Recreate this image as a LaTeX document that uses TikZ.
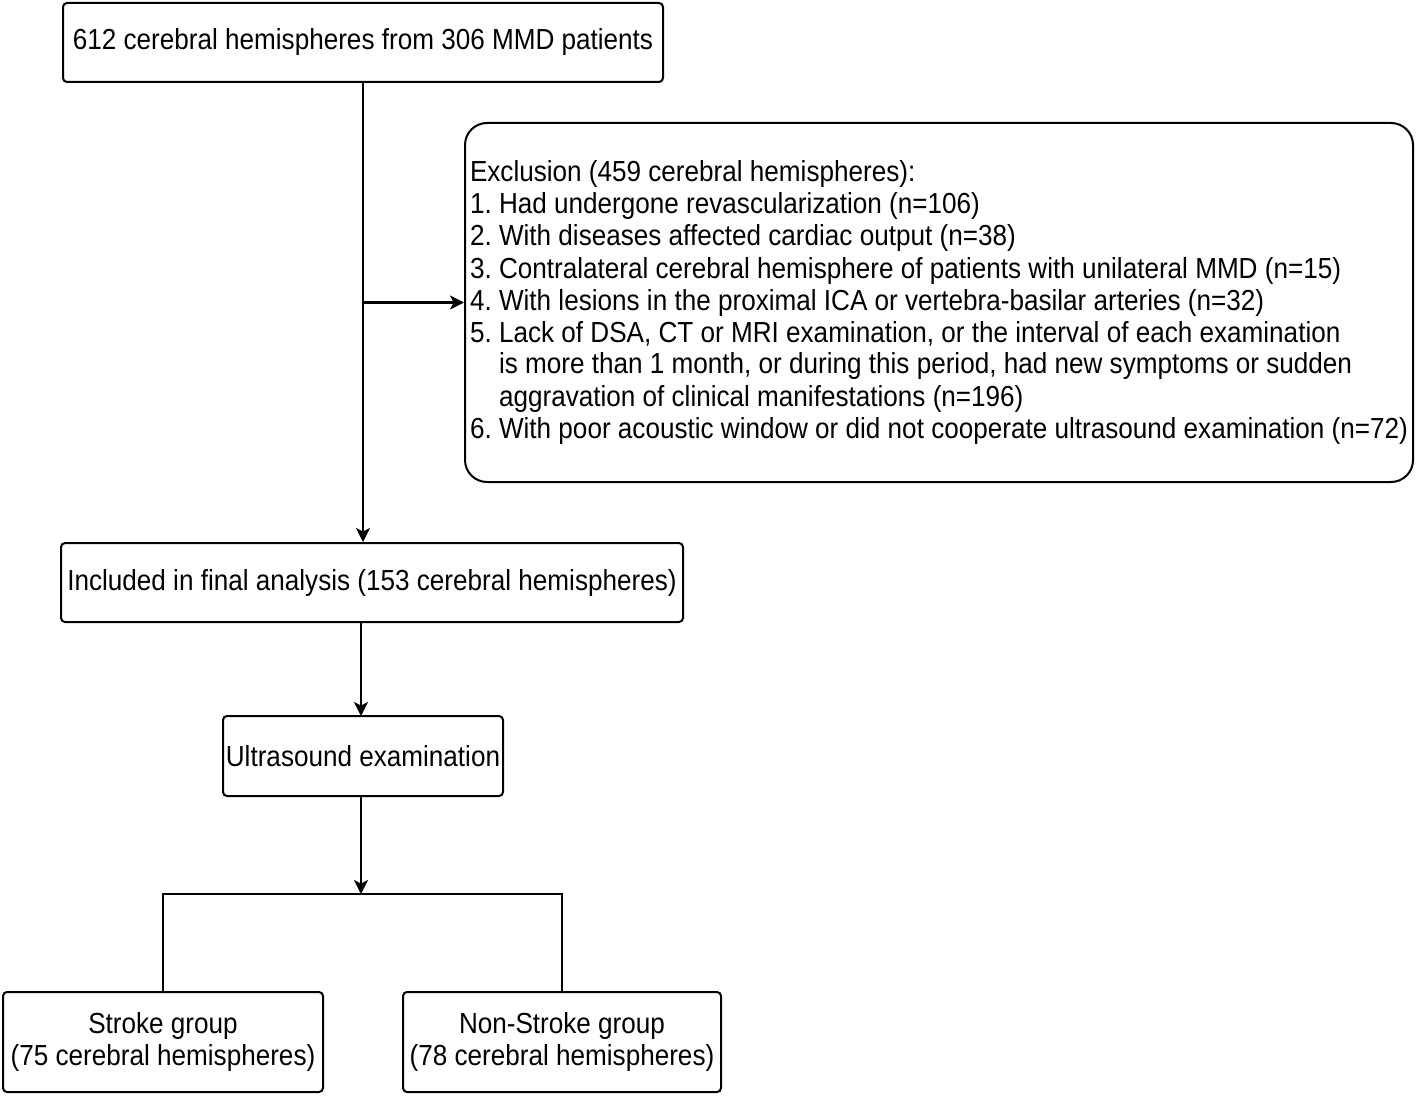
\documentclass[tikz,border=0pt]{standalone}
\usepackage{fontspec}
\setmainfont{Liberation Sans}[FakeStretch=0.9]
\usetikzlibrary{arrows.meta}

\begin{document}
\frenchspacing
\begin{tikzpicture}[x=0.5pt,y=-0.5pt]
	\tikzset{font=\fontsize{14.5}{16}\selectfont}
	
	\tikzset{block/.style = {shape=rectangle,draw,rounded corners=2pt,line width=1pt,align=center,inner sep=0pt}}
	
	\tikzset{edge/.style = {-,line width=1pt}}
	
	\useasboundingbox (0,0) rectangle (1416,1096);
	
	% vertices
	
	\node[block,minimum width=300pt,minimum height=39.5pt] (top) at (363,42.5) {612 cerebral hemispheres from 306 MMD patients};
	
	\node[block,rounded corners=11pt,minimum width=474pt,minimum height=179.5pt,align=left] (excl) at (939,302.5) {Exclusion (459 cerebral hemispheres):\\
		1. Had undergone revascularization (n=106)\\
		2. With diseases affected cardiac output (n=38)\\
		3. Contralateral cerebral hemisphere of patients with unilateral MMD (n=15)\\
		4. With lesions in the proximal ICA or vertebra-basilar arteries (n=32)\\
		5. Lack of DSA, CT or MRI examination, or the interval of each examination\\
		\phantom{5. }is more than 1 month, or during this period, had new symptoms or sudden\\
		\phantom{5. }aggravation of clinical manifestations (n=196)\\
		6. With poor acoustic window or did not cooperate ultrasound examination (n=72)};
	
	\node[block,minimum width=311pt,minimum height=39.5pt] (incl) at (372,582.5) {Included in final analysis (153 cerebral hemispheres)};
	
	\node[block,minimum width=140pt,minimum height=40pt] (ultra) at (363,756) {Ultrasound examination};
	
	\node[block,minimum width=160pt,minimum height=50pt] (stroke) at (163,1042) {Stroke group\\(75 cerebral hemispheres)};
	
	\node[block,minimum width=159pt,minimum height=50pt] (nonstroke) at (562,1042) {Non-Stroke group\\(78 cerebral hemispheres)};
	
	\coordinate (tap) at (top.south |- excl.west);
	\coordinate (split) at (361,894);
	%edges
	
	\begin{scope}[every edge/.style={draw=black,line width=1pt,->,>={Stealth[length=7pt,width=7pt,inset=1.8pt]}}]
	\draw[edge] (top.south) edge (top.south |- incl.north);
	\draw[edge] (tap) edge (excl.west);
	\draw[edge] (361,622) edge (361,716);
	\draw[edge] (361,796) edge (split);
	\end{scope}
	\draw[edge] (stroke.north) |- (split) -| (nonstroke.north);
\end{tikzpicture}
\end{document}
